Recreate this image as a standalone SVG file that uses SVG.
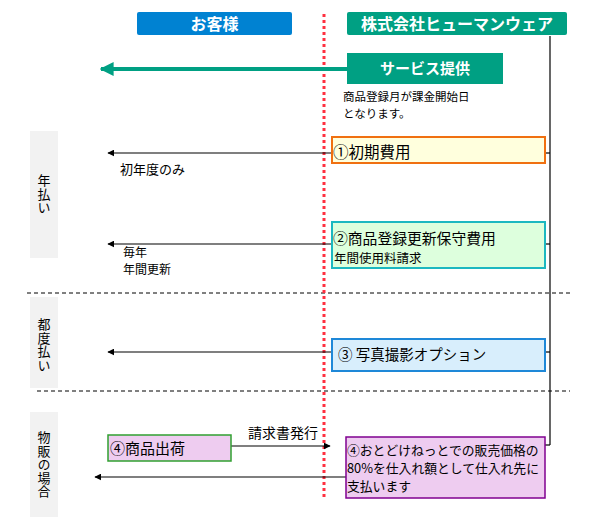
<svg xmlns="http://www.w3.org/2000/svg" width="600" height="524" viewBox="0 0 600 524">
<style>
text{font-family:"Noto Sans CJK JP","Liberation Sans",sans-serif;fill:#000}
.hd{font-size:16px;font-weight:bold;fill:#fff}
.t15{font-size:15px}
.t13{font-size:13px}
.t12{font-size:12px}
.vt{font-size:13px;writing-mode:vertical-rl;letter-spacing:0.4px}
.side{fill:#F2F2F2}
.ln{stroke:#000;stroke-width:1.2;fill:none}
.dash{stroke:#000;stroke-width:1;stroke-dasharray:4,3;fill:none}
</style>
<defs>
<marker id="ah" viewBox="0 0 10 10" refX="9" refY="5" markerWidth="7" markerHeight="7" markerUnits="userSpaceOnUse" orient="auto"><path d="M0,0L10,5L0,10z" fill="#000"/></marker>
<marker id="gah" viewBox="0 0 10 10" refX="9" refY="5" markerWidth="3.5" markerHeight="3.5" orient="auto"><path d="M0,0L10,5L0,10z" fill="#00A083"/></marker>
</defs>
<g id="lanes">
<rect x="30" y="131" width="28" height="127" class="side"/>
<rect x="30" y="297" width="28" height="91" class="side"/>
<rect x="30" y="412" width="28" height="105" class="side"/>
<line x1="27" y1="293" x2="570" y2="293" class="dash"/>
<line x1="37" y1="391" x2="570" y2="391" class="dash"/>
<line x1="324" y1="14" x2="324" y2="500" stroke="#FF3040" stroke-width="3" stroke-dasharray="3,3"/>
</g>
<g id="lane-labels">
<text x="44" y="174" class="vt">年払い</text>
<text x="44" y="318" class="vt">都度払い</text>
<text x="44" y="431" class="vt">物販の場合</text>
</g>
<g id="connectors">
<line x1="550" y1="36" x2="550" y2="445" class="ln"/>
<line x1="550" y1="445" x2="545" y2="445" class="ln"/>
<line x1="347" y1="69" x2="101" y2="69" stroke="#00A083" stroke-width="4" marker-end="url(#gah)"/>
<line x1="550" y1="153" x2="545" y2="153" class="ln"/>
<line x1="332" y1="153" x2="108" y2="153" class="ln" marker-end="url(#ah)"/>
<line x1="550" y1="244" x2="545" y2="244" class="ln"/>
<line x1="332" y1="244" x2="108" y2="244" class="ln" marker-end="url(#ah)"/>
<line x1="550" y1="352" x2="545" y2="352" class="ln"/>
<line x1="332" y1="352" x2="108" y2="352" class="ln" marker-end="url(#ah)"/>
<line x1="231" y1="446" x2="330" y2="446" class="ln" marker-end="url(#ah)"/>
<line x1="346" y1="477" x2="95" y2="477" class="ln" marker-end="url(#ah)"/>
<text x="248" y="438" style="font-size:14px">請求書発行</text>
<text x="120" y="174" class="t13">初年度のみ</text>
<text class="t12"><tspan x="123" y="257">毎年</tspan><tspan x="123" y="274">年間更新</tspan></text>
</g>
<g id="customer">
<rect x="137" y="12" width="155" height="23" rx="2" fill="#0082D2"/>
<text x="214.5" y="29.5" text-anchor="middle" class="hd">お客様</text>
</g>
<g id="company">
<rect x="347" y="12" width="220" height="23" rx="2" fill="#00A083"/>
<text x="457" y="29.5" text-anchor="middle" class="hd">株式会社ヒューマンウェア</text>
</g>
<g id="service">
<rect x="347" y="53" width="156" height="31" fill="#00A083"/>
<text x="425" y="74" text-anchor="middle" class="hd" style="font-size:15px">サービス提供</text>
<text style="font-size:11.5px"><tspan x="343" y="101">商品登録月が課金開始日</tspan><tspan x="343" y="117.5">となります。</tspan></text>
</g>
<g id="fee1">
<rect x="332" y="137" width="213" height="26" fill="#FFFFDD" stroke="#F07010" stroke-width="2"/>
<text x="333" y="157.5" style="font-size:15.5px">①初期費用</text>
</g>
<g id="fee2">
<rect x="332" y="222" width="213" height="46" fill="#DDFFDD" stroke="#1CB8C0" stroke-width="2"/>
<text x="333" y="244" style="font-size:14.8px">②商品登録更新保守費用</text>
<text x="334" y="263" style="font-size:12.5px">年間使用料請求</text>
</g>
<g id="fee3">
<rect x="332" y="339" width="213" height="32" fill="#D8EEFC" stroke="#1E88D8" stroke-width="2"/>
<text x="338" y="360" style="font-size:14.5px">③ 写真撮影オプション</text>
</g>
<g id="ship">
<rect x="108" y="435" width="123" height="26" fill="#EECCF0" stroke="#30A030" stroke-width="1.5"/>
<text x="110" y="454" class="t15">④商品出荷</text>
</g>
<g id="pay">
<rect x="346" y="437" width="199" height="61" fill="#EECCF0" stroke="#800090" stroke-width="1.5"/>
<text style="font-size:12.8px"><tspan x="347" y="455">④おとどけねっとでの販売価格の</tspan><tspan x="347" y="473">80%を仕入れ額として仕入れ先に</tspan><tspan x="347" y="491">支払います</tspan></text>
</g>
</svg>
